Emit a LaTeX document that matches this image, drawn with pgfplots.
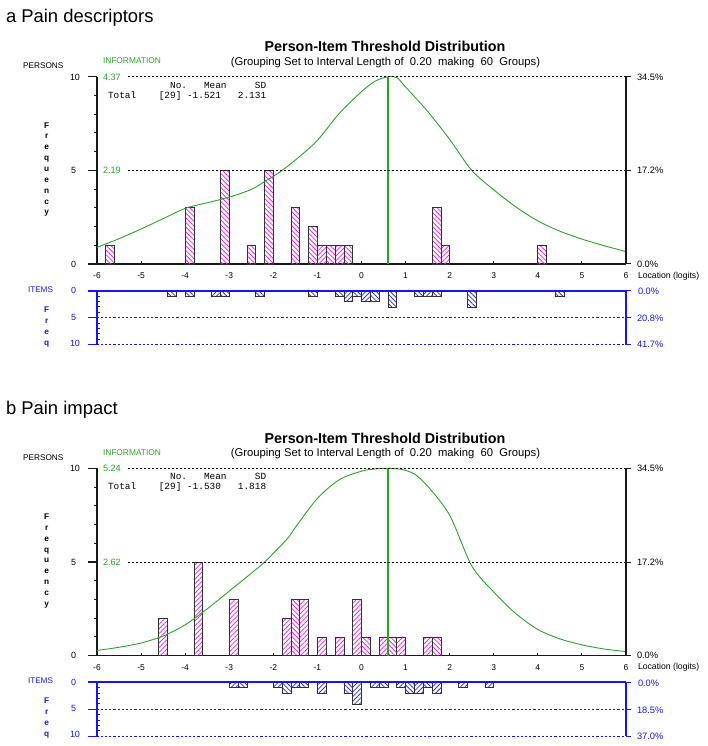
\documentclass[border=0pt]{standalone}
\usepackage{fontspec}
\setmainfont{Liberation Sans}
\setmonofont{Liberation Mono}
\usepackage{pgfplots}
\pgfplotsset{compat=1.18}
\usetikzlibrary{patterns.meta}

\definecolor{infgreen}{RGB}{40,165,40}
\definecolor{itemblue}{RGB}{20,20,250}
\definecolor{hatchpink}{RGB}{240,40,240}
\definecolor{hatchblue}{RGB}{50,50,235}
\definecolor{barline}{RGB}{50,50,50}

\newcommand{\fs}[1]{\fontsize{#1}{#1}\selectfont}

\tikzset{
  pNE/.style={pattern={Lines[angle=45,distance=3.3bp,line width=0.8bp]}, pattern color=hatchpink},
  pNW/.style={pattern={Lines[angle=-45,distance=3.3bp,line width=0.8bp]}, pattern color=hatchpink},
  iNE/.style={pattern={Lines[angle=45,distance=3.3bp,line width=0.8bp]}, pattern color=hatchblue},
  iNW/.style={pattern={Lines[angle=-45,distance=3.3bp,line width=0.8bp]}, pattern color=hatchblue},
  lbl/.style={inner sep=0pt, outer sep=0pt},
}
\pgfplotsset{
  hbar/.style={ybar, bar width=0.2, bar shift=0pt, draw=barline, line width=0.7bp},
  personsaxis/.style={
    scale only axis, anchor=south west, width=529bp, height=187.3bp,
    xmin=-6, xmax=6, ymin=0, ymax=10, clip=false,
    axis x line*=bottom, axis y line*=left,
    axis line style={black!90, line width=1.6bp},
    ytick=\empty,
    xtick={-6,...,6}, xticklabels={-6,-5,-4,-3,-2,-1,0,1,2,3,4,5,6},
    tick align=inside, major tick length=3bp,
    tick style={black!90, line width=1bp},
    xticklabel style={font=\fs{8.5}, inner sep=0pt, yshift=-8.4bp},
  },
  itemsaxis/.style={
    scale only axis, anchor=south west, width=529bp, height=54bp,
    xmin=-6, xmax=6, ymin=0, ymax=10, y dir=reverse, clip=false,
    axis lines=none,
  },
}
\newcommand{\personsdeco}{%
  \draw[black!90, line width=1.2bp] (axis cs:-6,0) -- ++(-9bp,0bp);
  \draw[black!90, line width=1.2bp] (axis cs:-6,5) -- ++(-9bp,0bp);
  \draw[black!90, line width=1.2bp] (axis cs:-6,10) -- ++(-9bp,0bp);
  \pgfplotsinvokeforeach{1,2,3,4,6,7,8,9}{\draw[black!90, line width=1bp] (axis cs:-6,##1) -- ++(-3bp,0bp);}
  \draw[black, dash pattern=on 2bp off 2bp, line width=0.8bp] (axis cs:-5.3,10) -- (axis cs:6,10);
  \draw[black, dash pattern=on 2bp off 2bp, line width=0.8bp] (axis cs:-5.3,5) -- (axis cs:6,5);
  \draw[black!90, line width=2bp] (axis cs:6,0) -- (axis cs:6,10);
  \draw[black!90, line width=1bp] (axis cs:6,0) -- ++(5bp,0bp);
  \draw[black!90, line width=1bp] (axis cs:6,5) -- ++(5bp,0bp);
  \draw[black!90, line width=1bp] (axis cs:6,10) -- ++(5bp,0bp);
}
\newcommand{\itemsdeco}{%
  \draw[draw=itemblue, dash pattern=on 2.2bp off 2bp, line width=1bp] (axis cs:-6.2,5) -- (axis cs:6,5);
  \draw[draw=itemblue, dash pattern=on 2.2bp off 2bp, line width=1bp] (axis cs:-6.2,10) -- (axis cs:6,10);
  \draw[itemblue, line width=1.2bp] (axis cs:-6.2,5) -- (axis cs:-6,5);
  \draw[itemblue, line width=1.2bp] (axis cs:-6.2,10) -- (axis cs:-6,10);
  \draw[itemblue, line width=1.7bp] (axis cs:-6.2,0) -- (axis cs:6,0);
  \draw[itemblue, line width=2bp] (axis cs:-6,0) -- (axis cs:-6,10);
  \draw[itemblue, line width=2bp] (axis cs:6,0) -- (axis cs:6,10);
  \pgfplotsinvokeforeach{1,2,3,4,6,7,8,9}{\draw[itemblue, line width=1bp] (axis cs:-6,##1) -- ++(3bp,0bp);}
  \draw[itemblue, line width=1bp] (axis cs:6,0) -- ++(5bp,0bp);
  \draw[itemblue, line width=1bp] (axis cs:6,5) -- ++(5bp,0bp);
  \draw[itemblue, line width=1bp] (axis cs:6,10) -- ++(5bp,0bp);
}
\newcommand{\panellabels}[6]{%
\node[lbl, anchor=west, font=\fs{18.5}] at (6bp,728bp) {#1};
\node[lbl, font=\bfseries\fs{14.4}] at (385bp,699.3bp) {Person-Item Threshold Distribution};
\node[lbl, font=\fs{11.3}] at (385.5bp,683.7bp) {(Grouping Set to Interval Length of~ 0.20~ making~ 60~ Groups)};
\node[lbl, anchor=west, font=\fs{8.3}] at (23bp,680.3bp) {PERSONS};
\node[lbl, anchor=west, font=\fs{8.4}, text=infgreen] at (103bp,685bp) {INFORMATION};
\node[lbl, anchor=west, font=\fs{9.2}, text=infgreen] at (103bp,669bp) {#2};
\node[lbl, anchor=west, font=\fs{9.2}, text=infgreen] at (103bp,575.5bp) {#3};
\node[lbl, anchor=west, font=\ttfamily\fs{9.45}] at (108bp,660.7bp) {~~~~~~~~~~~No.~~~Mean~~~~~SD};
\node[lbl, anchor=west, font=\ttfamily\fs{9.45}] at (108bp,650bp) {Total~~~~[29]~#4};
\node[lbl, align=center, font=\bfseries\fontsize{8.3}{10.9}\selectfont] at (46.7bp,576.5bp) {F\\r\\e\\q\\u\\e\\n\\c\\y};
\node[lbl, anchor=west, font=\fs{9}] at (70bp,669bp) {10};
\node[lbl, anchor=west, font=\fs{9}] at (71bp,575.5bp) {5};
\node[lbl, anchor=west, font=\fs{9}] at (71bp,482bp) {0};
\node[lbl, anchor=west, font=\fs{9.3}] at (637bp,669bp) {34.5\%};
\node[lbl, anchor=west, font=\fs{9.3}] at (637bp,575.5bp) {17.2\%};
\node[lbl, anchor=west, font=\fs{9.3}] at (637bp,482bp) {0.0\%};
\node[lbl, anchor=west, font=\fs{8.7}] at (638bp,470bp) {Location (logits)};
\node[lbl, anchor=west, font=\fs{8.2}, text=itemblue] at (28bp,456.5bp) {ITEMS};
\node[lbl, anchor=west, font=\fs{9}, text=itemblue] at (71bp,455.3bp) {0};
\node[lbl, anchor=west, font=\fs{9}, text=itemblue] at (71bp,429bp) {5};
\node[lbl, anchor=west, font=\fs{9}, text=itemblue] at (70bp,403bp) {10};
\node[lbl, align=center, text=itemblue, font=\bfseries\fontsize{8.3}{11.1}\selectfont] at (46.7bp,419.3bp) {F\\r\\e\\q};
\node[lbl, anchor=west, font=\fs{9.3}, text=itemblue] at (638bp,454.3bp) {0.0\%};
\node[lbl, anchor=west, font=\fs{9.3}, text=itemblue] at (637bp,427.5bp) {#5};
\node[lbl, anchor=west, font=\fs{9.3}, text=itemblue] at (637bp,401.5bp) {#6};
}

\begin{document}
\begin{tikzpicture}
\useasboundingbox (0bp,0bp) rectangle (708bp,746bp);

% ================= Panel a =================
\begin{axis}[personsaxis, at={(97bp,482bp)}]
  \addplot[hbar, pNW] coordinates {(-5.7,1) (-3.9,3) (-3.1,5) (-2.5,1) (-2.1,5) (-1.5,3) (-1.1,2) (-0.7,1) (-0.3,1) (1.7,3) (4.1,1)};
  \addplot[hbar, pNE] coordinates {(-0.9,1) (-0.5,1) (1.9,1)};
  \addplot[draw=infgreen, line width=0.9bp, smooth, mark=none] coordinates {(-6,0.89) (-5.5,1.35) (-5,1.87) (-4.5,2.42) (-4,2.97) (-3.5,3.27) (-3,3.57) (-2.5,3.98) (-2.2,4.4) (-2,4.68) (-1.8,5.0) (-1.5,5.55) (-1,6.6) (-0.5,8.05) (0,9.2) (0.3,9.75) (0.6,10) (0.8,9.95) (1,9.45) (1.5,8.15) (2,6.65) (2.5,5.0) (3,3.96) (3.5,3.05) (4,2.3) (4.5,1.75) (5,1.33) (5.5,0.98) (6,0.66)};
  \addplot[draw=infgreen, line width=1.3bp, mark=none] coordinates {(0.6,0) (0.6,10)};
  \personsdeco
\end{axis}
\begin{axis}[itemsaxis, at={(97bp,401.3bp)}]
  \addplot[hbar, iNW] coordinates {(-4.3,1) (-3.9,1) (-3.1,1) (-2.3,1) (-1.1,1) (-0.5,1) (-0.1,1) (0.3,2) (0.7,3) (1.3,1) (1.7,1) (2.5,3) (4.5,1)};
  \addplot[hbar, iNE] coordinates {(-3.3,1) (-0.3,2) (0.1,2) (1.5,1)};
  \itemsdeco
\end{axis}
\panellabels{a Pain descriptors}{4.37}{2.19}{-1.521~~~2.131}{20.8\%}{41.7\%}

% ================= Panel b =================
\begin{axis}[personsaxis, at={(97bp,90.3bp)}]
  \addplot[hbar, pNE] coordinates {(-4.5,2) (-3.7,5) (-2.9,3) (-1.7,2) (-1.3,3) (-0.9,1) (-0.5,1) (-0.1,3) (0.5,1) (0.9,1) (1.5,1)};
  \addplot[hbar, pNW] coordinates {(-1.5,3) (0.1,1) (0.7,1) (1.7,1)};
  \addplot[draw=infgreen, line width=0.9bp, smooth, mark=none] coordinates {(-6,0.28) (-5.5,0.45) (-5,0.68) (-4.5,1.05) (-4,1.65) (-3.5,2.5) (-3,3.45) (-2.5,4.4) (-2.2,5.0) (-1.7,6.2) (-1.5,6.85) (-1,8.4) (-0.5,9.4) (0,9.85) (0.3,9.97) (0.6,10) (0.9,9.95) (1.2,9.7) (1.5,9.05) (2,7.5) (2.5,4.8) (3,3.4) (3.5,2.25) (4,1.4) (4.5,0.9) (5,0.58) (5.5,0.36) (6,0.22)};
  \addplot[draw=infgreen, line width=1.3bp, mark=none] coordinates {(0.6,0) (0.6,10)};
  \personsdeco
\end{axis}
\begin{axis}[itemsaxis, at={(97bp,9.7bp)}]
  \addplot[hbar, iNE] coordinates {(-2.9,1) (-1.9,1) (-1.5,1) (-0.9,2) (-0.1,4) (0.3,1) (0.9,1) (1.3,2) (1.7,2) (2.3,1) (2.9,1)};
  \addplot[hbar, iNW] coordinates {(-2.7,1) (-1.7,2) (-1.3,1) (-0.3,2) (0.5,1) (1.1,2) (1.5,1)};
  \itemsdeco
\end{axis}
\begin{scope}[yshift=-391.5bp]
\panellabels{b Pain impact}{5.24}{2.62}{-1.530~~~1.818}{18.5\%}{37.0\%}
\end{scope}
\end{tikzpicture}
\end{document}
